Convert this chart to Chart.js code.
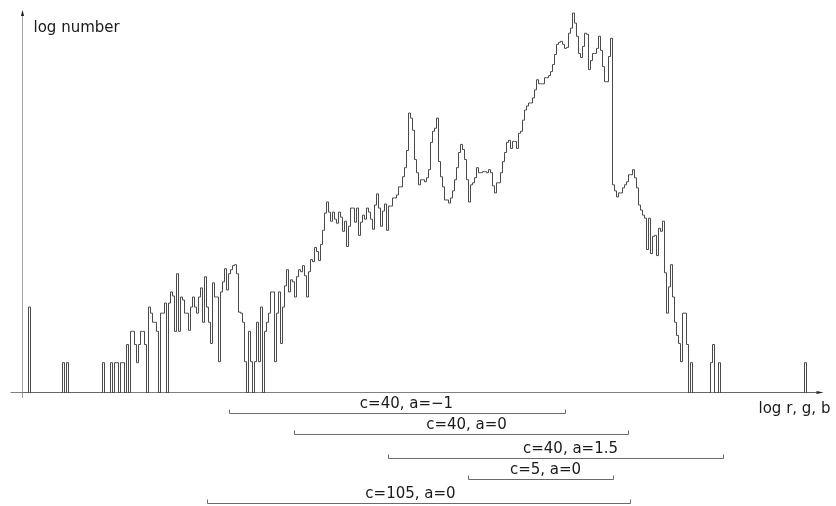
<!DOCTYPE html>
<html>
<head>
<meta charset="utf-8">
<script src="https://cdn.jsdelivr.net/npm/chart.js@4/dist/chart.umd.min.js"></script>
<style>
  html, body { margin: 0; padding: 0; background: #fff; }
  canvas { display: block; }
</style>
</head>
<body>
<canvas id="hist" width="836" height="506"></canvas>
<script>
// Histogram of log(r, g, b) values: log10(count + 1) per bin, bins in order of increasing log r, g, b
const logCounts = [
  0, 0, 0, 0.85, 0, 0, 0, 0, 0, 0,
  0, 0, 0, 0, 0, 0, 0, 0, 0, 0,
  0.30, 0, 0.30, 0, 0, 0, 0, 0, 0, 0,
  0, 0, 0, 0, 0, 0, 0, 0, 0, 0,
  0.30, 0, 0, 0, 0.30, 0, 0.30, 0.30, 0, 0.30,
  0.30, 0, 0.48, 0, 0.61, 0.61, 0.48, 0.30, 0.48, 0.61,
  0.61, 0.48, 0, 0.85, 0.79, 0.70, 0.70, 0.61, 0, 0.79,
  0.79, 0.89, 0, 0.89, 1.00, 0.96, 0.61, 1.18, 0.61, 0.95,
  0.92, 0.79, 0.79, 0.62, 0.85, 0.95, 0.85, 0.79, 0.95, 1.04,
  0.70, 1.15, 0.85, 0.70, 0.49, 1.09, 0.95, 0.95, 0.31, 1.00,
  1.10, 1.23, 1.02, 1.18, 1.22, 1.26, 1.27, 1.18, 0.80, 0.79,
  0.70, 0.31, 0, 0.61, 0.31, 0, 0.31, 0.70, 0.31, 0.85,
  0, 0.61, 0.70, 0.79, 1.00, 1.00, 0.31, 0.79, 1.00, 0.49,
  0.85, 1.06, 1.22, 1.00, 1.12, 1.10, 0.95, 1.15, 1.22, 1.20,
  1.26, 1.16, 0.95, 1.20, 1.32, 1.30, 1.44, 1.40, 1.31, 1.47,
  1.61, 1.78, 1.89, 1.79, 1.70, 1.79, 1.72, 1.68, 1.79, 1.74,
  1.60, 1.70, 1.45, 1.65, 1.83, 1.83, 1.69, 1.83, 1.56, 1.69,
  1.76, 1.72, 1.83, 1.79, 1.72, 1.62, 1.86, 1.97, 1.83, 1.65,
  1.80, 1.87, 1.61, 1.85, 1.85, 1.93, 1.93, 1.96, 2.04, 2.04,
  2.14, 2.23, 2.40, 2.77, 2.72, 2.60, 2.31, 2.18, 2.06, 2.11,
  2.11, 2.09, 2.13, 2.21, 2.48, 2.59, 2.62, 2.72, 2.29, 2.14,
  2.04, 1.91, 1.91, 1.88, 1.93, 2.00, 2.11, 2.23, 2.38, 2.46,
  2.41, 2.31, 2.11, 1.89, 2.06, 2.08, 2.13, 2.23, 2.18, 2.18,
  2.19, 2.19, 2.18, 2.21, 2.18, 2.05, 1.98, 2.08, 2.08, 2.18,
  2.29, 2.38, 2.48, 2.50, 2.42, 2.49, 2.49, 2.42, 2.57, 2.59,
  2.70, 2.80, 2.84, 2.87, 2.87, 2.92, 3.00, 3.10, 3.06, 3.06,
  3.06, 3.12, 3.12, 3.14, 3.18, 3.25, 3.35, 3.45, 3.47, 3.48,
  3.45, 3.41, 3.42, 3.56, 3.61, 3.76, 3.66, 3.53, 3.36, 3.32,
  3.43, 3.56, 3.55, 3.20, 3.29, 3.36, 3.36, 3.41, 3.53, 3.39,
  3.23, 3.08, 3.08, 3.33, 3.51, 2.06, 2.00, 1.94, 1.98, 1.98,
  2.03, 2.06, 2.09, 2.16, 2.16, 2.21, 2.13, 2.03, 1.86, 1.81,
  1.76, 1.73, 1.42, 1.73, 1.38, 1.55, 1.56, 1.36, 1.63, 1.60,
  1.70, 1.19, 0.79, 1.05, 1.27, 0.95, 0.70, 0.57, 0.49, 0.31,
  0.79, 0.79, 0.48, 0, 0.30, 0, 0, 0, 0, 0,
  0, 0, 0, 0, 0.30, 0.48, 0, 0, 0.30, 0,
  0, 0, 0, 0, 0, 0, 0, 0, 0, 0,
  0, 0, 0, 0, 0, 0, 0, 0, 0, 0,
  0, 0, 0, 0, 0, 0, 0, 0, 0, 0,
  0, 0, 0, 0, 0, 0, 0, 0, 0, 0,
  0, 0.30, 0, 0, 0, 0, 0, 0
];

// Ranges covered by each parameter setting, in bin units along the log r, g, b axis
const rangeLabels = ['c=40, a=\u22121', 'c=40, a=0', 'c=40, a=1.5', 'c=5, a=0', 'c=105, a=0'];
const rangeStarts = [103.5, 136, 183, 223, 92.5];
const rangeEnds   = [271.5, 303, 350.5, 295.5, 304];

const axisTitles = ['log number', 'log r, g, b'];

// Step histogram points: each bin value holds from its left edge to the next one
const binCount = logCounts.length;
const points = logCounts.map((v, i) => ({ x: i, y: v }));
points.push({ x: binCount, y: 0 });

const FONT = '15px "DejaVu Sans", "Liberation Sans", sans-serif';

const axesAndRanges = {
  id: 'axesAndRanges',
  beforeDatasetsDraw(chart, args, o) {
    const { ctx, chartArea: a } = chart;
    const xAxisY = Math.round(a.bottom) - 0.5;
    const yAxisX = Math.floor(a.left) + 0.5;
    ctx.save();
    ctx.lineWidth = 1;

    // vertical axis
    ctx.strokeStyle = '#a0a0a0';
    ctx.beginPath();
    ctx.moveTo(yAxisX, a.bottom + 5);
    ctx.lineTo(yAxisX, a.top + 3);
    ctx.stroke();
    ctx.fillStyle = '#222';
    ctx.beginPath();
    ctx.moveTo(yAxisX, a.top);
    ctx.lineTo(yAxisX + 1.6, a.top + 6);
    ctx.lineTo(yAxisX - 1.6, a.top + 6);
    ctx.closePath();
    ctx.fill();

    // horizontal axis
    ctx.strokeStyle = '#808080';
    ctx.beginPath();
    ctx.moveTo(a.left - 12, xAxisY);
    ctx.lineTo(a.right + 1, xAxisY);
    ctx.stroke();
    ctx.fillStyle = '#222';
    ctx.beginPath();
    ctx.moveTo(a.right + 5, xAxisY);
    ctx.lineTo(a.right - 2, xAxisY - 1.6);
    ctx.lineTo(a.right - 2, xAxisY + 1.6);
    ctx.closePath();
    ctx.fill();
    ctx.restore();
  },
  afterDatasetsDraw(chart, args, o) {
    const { ctx, chartArea: a, scales: { x } } = chart;
    ctx.save();
    ctx.font = FONT;
    ctx.fillStyle = '#1a1a1a';

    // axis titles
    ctx.textAlign = 'left';
    ctx.textBaseline = 'middle';
    ctx.fillText(axisTitles[0], a.left + 11, a.top + 18);
    ctx.fillText(axisTitles[1], a.right - 60, a.bottom + 16);

    // range brackets with their parameter labels
    ctx.strokeStyle = '#6a6a6a';
    ctx.lineWidth = 1;
    rangeLabels.forEach((label, r) => {
      const y = Math.round(a.bottom + o.rowOffsets[r]) + 0.5;
      const x1 = Math.floor(x.getPixelForValue(rangeStarts[r])) + 0.5;
      const x2 = Math.floor(x.getPixelForValue(rangeEnds[r])) + 0.5;
      ctx.beginPath();
      ctx.moveTo(x1, y - 4);
      ctx.lineTo(x1, y);
      ctx.lineTo(x2, y);
      ctx.lineTo(x2, y - 4);
      ctx.stroke();
      ctx.textAlign = 'center';
      ctx.textBaseline = 'middle';
      ctx.fillText(label, x.getPixelForValue(o.labelCenters[r]), y - 9.5);
    });
    ctx.restore();
  }
};

new Chart(document.getElementById('hist'), {
  type: 'line',
  data: {
    datasets: [{
      data: points,
      stepped: 'before',
      borderColor: '#4a4a4a',
      borderWidth: 1,
      pointRadius: 0,
      fill: false,
      tension: 0
    }]
  },
  options: {
    responsive: false,
    animation: false,
    events: [],
    // half-pixel left offset keeps the 1px vertical steps crisp
    layout: { padding: { left: 22.5, right: 17.5, top: 10, bottom: 113 } },
    scales: {
      x: { type: 'linear', min: 0, max: binCount, display: false },
      y: { type: 'linear', min: 0, max: 3.79, display: false }
    },
    plugins: {
      legend: { display: false },
      tooltip: { enabled: false },
      axesAndRanges: {
        rowOffsets: [20, 41, 65, 86, 110],
        labelCenters: [192, 222, 274, 261.5, 194]
      }
    }
  },
  plugins: [axesAndRanges]
});
</script>
</body>
</html>
